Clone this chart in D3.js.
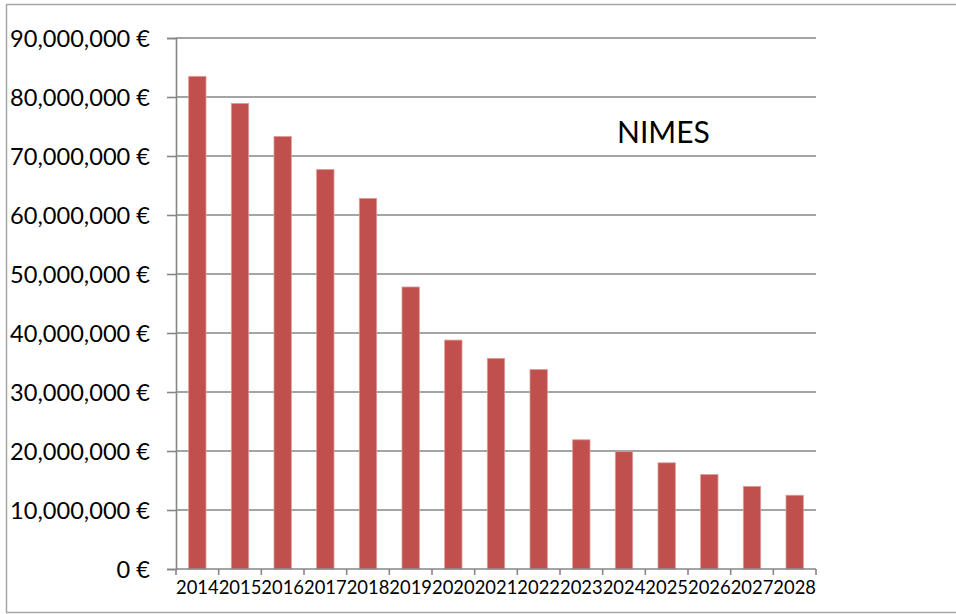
<!DOCTYPE html>
<html>
<head>
<meta charset="utf-8">
<script src="https://cdn.jsdelivr.net/npm/d3@7"></script>
<style>
  html, body { margin: 0; padding: 0; background: #fff; }
  svg { display: block; font-family: Lato, "Open Sans", sans-serif; }
</style>
</head>
<body>
<svg id="chart" width="956" height="614"></svg>
<script>
// Years on the horizontal axis
const years = ["2014","2015","2016","2017","2018","2019","2020","2021","2022","2023","2024","2025","2026","2027","2028"];
// Amount per year, in euros
const amounts = [83500000, 78900000, 73300000, 67700000, 62800000, 47800000, 38800000, 35700000, 33800000, 21900000, 19900000, 18000000, 16000000, 14000000, 12500000];
// Vertical axis tick values
const yTicks = [0, 10000000, 20000000, 30000000, 40000000, 50000000, 60000000, 70000000, 80000000, 90000000];
const title = "NIMES";

const svg = d3.select("#chart");
const W = 956, H = 614;
const plot = { left: 176, right: 816, top: 38, bottom: 569 };
const gridColor = "#868686";

// outer frame (open on the right)
svg.append("path")
  .attr("d", `M${W + 2},4.5 H6.5 V612.5 H${W + 2}`)
  .attr("fill", "none")
  .attr("stroke", "#a6a6a6")
  .attr("stroke-width", 1.5);

const x = d3.scaleBand()
  .domain(years)
  .range([plot.left, plot.right])
  .paddingInner(0.594)
  .paddingOuter(0.297);

const y = d3.scaleLinear()
  .domain([0, 90000000])
  .range([plot.bottom, plot.top]);

// horizontal gridlines
svg.append("g")
  .selectAll("line")
  .data(yTicks.filter(d => d > 0))
  .join("line")
  .attr("x1", plot.left)
  .attr("x2", plot.right)
  .attr("y1", d => y(d))
  .attr("y2", d => y(d))
  .attr("stroke", gridColor)
  .attr("stroke-width", 1.6);

// bars
svg.append("g")
  .selectAll("rect")
  .data(amounts)
  .join("rect")
  .attr("x", (d, i) => x(years[i]))
  .attr("y", d => y(d))
  .attr("width", x.bandwidth())
  .attr("height", d => y(0) - y(d))
  .attr("fill", "#C0504D")
  .attr("stroke", "#dc9a98")
  .attr("stroke-width", 0.8);

// vertical axis
const fmt = d3.format(",");
const yAxis = svg.append("g")
  .attr("transform", `translate(${plot.left},0)`)
  .call(d3.axisLeft(y)
    .tickValues(yTicks)
    .tickSize(9)
    .tickPadding(17)
    .tickFormat(d => fmt(d) + " \u20AC"));
yAxis.select(".domain").attr("stroke", gridColor).attr("stroke-width", 1.6);
yAxis.selectAll(".tick line").attr("stroke", gridColor).attr("stroke-width", 1.6);
yAxis.selectAll(".tick text")
  .attr("fill", "#000")
  .attr("font-size", 23.6)
  .attr("font-family", "Lato, sans-serif")
  .attr("dy", "0.37em");

// horizontal axis: line, boundary ticks and year labels
const xg = svg.append("g");
xg.append("line")
  .attr("x1", plot.left).attr("x2", plot.right)
  .attr("y1", y(0)).attr("y2", y(0))
  .attr("stroke", gridColor).attr("stroke-width", 1.6);
const step = x.step();
xg.selectAll("line.tk")
  .data(d3.range(years.length + 1))
  .join("line")
  .attr("class", "tk")
  .attr("x1", i => plot.left + i * step)
  .attr("x2", i => plot.left + i * step)
  .attr("y1", y(0))
  .attr("y2", y(0) + 6)
  .attr("stroke", gridColor)
  .attr("stroke-width", 1.6);
xg.selectAll("text")
  .data(years)
  .join("text")
  .attr("x", d => x(d) + x.bandwidth() / 2)
  .attr("y", 594)
  .attr("text-anchor", "middle")
  .attr("font-size", 18.4)
  .attr("fill", "#000")
  .text(d => d);

// chart title inside the plot
svg.append("text")
  .attr("x", 617)
  .attr("y", 143)
  .attr("font-size", 30)
  .attr("fill", "#000")
  .text(title);
</script>
</body>
</html>
